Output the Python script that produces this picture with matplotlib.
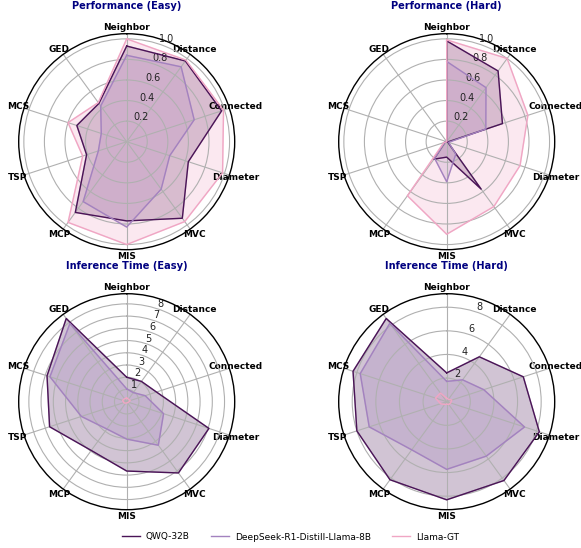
import numpy as np
import matplotlib
matplotlib.use("Agg")
import matplotlib.pyplot as plt

categories = ['Neighbor', 'Distance', 'Connected', 'Diameter', 'MVC',
              'MIS', 'MCP', 'TSP', 'MCS', 'GED']
models = ['QWQ-32B', 'DeepSeek-R1-Distill-Llama-8B', 'Llama-GT']

perf_easy_qwq = [0.93, 0.97, 0.97, 0.63, 0.92, 0.77, 0.85, 0.41, 0.51, 0.46]
perf_easy_ds = [0.84, 0.90, 0.69, 0.44, 0.57, 0.83, 0.72, 0.29, 0.26, 0.43]
perf_easy_gt = [1.00, 0.98, 0.99, 0.98, 0.96, 1.00, 0.97, 0.45, 0.60, 0.47]

perf_hard_qwq = [0.98, 0.85, 0.57, 0.01, 0.57, 0.15, 0.21, 0.02, 0.0, 0.0]
perf_hard_ds = [0.78, 0.65, 0.40, 0.02, 0.15, 0.39, 0.20, 0.02, 0.0, 0.0]
perf_hard_gt = [0.99, 1.00, 0.83, 0.75, 0.78, 0.90, 0.65, 0.03, 0.0, 0.0]

time_easy_qwq = [2.00, 2.05, 2.56, 7.07, 7.20, 5.67, 4.93, 6.63, 6.85, 8.41]
time_easy_ds = [1.05, 0.92, 1.59, 3.17, 4.40, 3.06, 2.76, 3.90, 6.60, 7.90]
time_easy_gt = [0.30, 0.25, 0.30, 0.15, 0.10, 0.10, 0.15, 0.25, 0.35, 0.30]

time_hard_qwq = [2.44, 4.70, 6.82, 8.25, 8.25, 8.31, 8.17, 8.00, 8.34, 8.71]
time_hard_ds = [1.72, 2.29, 3.30, 6.93, 5.70, 5.73, 5.04, 6.90, 7.70, 8.20]
time_hard_gt = [0.30, 0.25, 0.45, 0.35, 0.30, 0.20, 0.30, 0.55, 1.00, 0.90]

titles = ['Performance (Easy)', 'Performance (Hard)',
          'Inference Time (Easy)', 'Inference Time (Hard)']
panel_data = [
    [perf_easy_qwq, perf_easy_ds, perf_easy_gt],
    [perf_hard_qwq, perf_hard_ds, perf_hard_gt],
    [time_easy_qwq, time_easy_ds, time_easy_gt],
    [time_hard_qwq, time_hard_ds, time_hard_gt],
]
rticks = [
    [0.2, 0.4, 0.6, 0.8, 1.0],
    [0.2, 0.4, 0.6, 0.8, 1.0],
    [1, 2, 3, 4, 5, 6, 7, 8],
    [2, 4, 6, 8],
]

colors = ['#4a1457', '#a382bf', '#f0a6c4']

W, H = 581, 548
fig = plt.figure(figsize=(W / 100, H / 100), dpi=100)

centers = [(126.7, 141.7), (446.7, 141.7), (126.7, 401.7), (446.7, 401.7)]
rad = 108.0

N = len(categories)
angles = np.linspace(0, 2 * np.pi, N, endpoint=False)
angles_closed = np.concatenate([angles, angles[:1]])

handles = []
for i, (cx, cy) in enumerate(centers):
    ax = fig.add_axes([(cx - rad) / W, (H - cy - rad) / H, 2 * rad / W, 2 * rad / H],
                      projection='polar')
    ax.set_theta_offset(np.pi / 2)
    ax.set_theta_direction(-1)
    series = panel_data[i]
    vmax = max(max(s) for s in series)
    for s, c, m in zip(series, colors, models):
        vals = np.concatenate([s, s[:1]])
        ln, = ax.plot(angles_closed, vals, color=c, linewidth=1.0, label=m)
        ax.fill(angles_closed, vals, color=c, alpha=0.25)
        if i == 0:
            handles.append(ln)
    ax.set_ylim(0, vmax * 1.05)
    ax.set_yticks(rticks[i])
    ax.set_yticklabels([str(t) for t in rticks[i]], fontsize=7, color='#222222')
    ax.set_rlabel_position(180 / N)
    ax.set_xticks(angles)
    ax.set_xticklabels(categories, fontsize=6.5, fontweight='bold')
    ax.tick_params(axis='x', pad=-5.8)
    ax.grid(color='#b0b0b0', linewidth=0.8)
    ax.spines['polar'].set_color('black')
    ax.spines['polar'].set_linewidth(1.0)
    ax.text(0.5, 1.128, titles[i], transform=ax.transAxes, ha='center', va='center',
            fontsize=7.1, fontweight='bold', color='navy')

fig.legend(handles, models, loc='center', bbox_to_anchor=(0.5, 1 - 537 / H), ncol=3,
           frameon=False, fontsize=6.5, handlelength=2.0, handletextpad=0.6,
           columnspacing=2.4)

fig.savefig('out.png', dpi=100)
